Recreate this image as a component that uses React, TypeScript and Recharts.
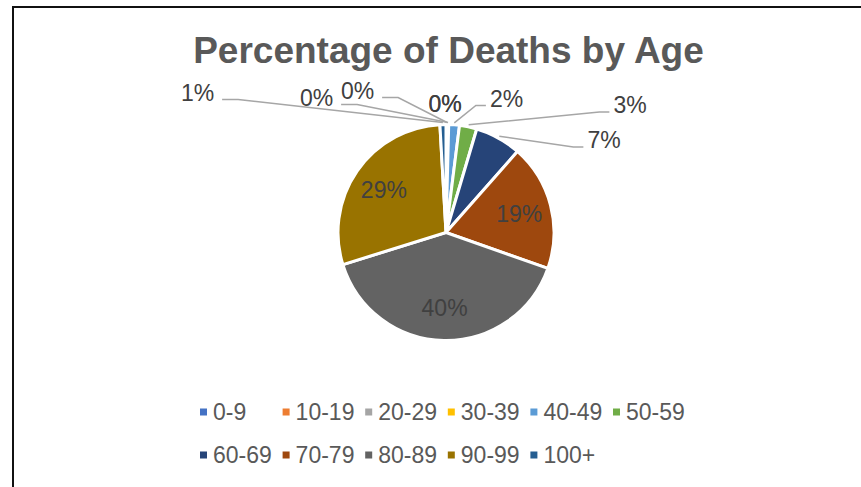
import { Cell, Legend, Pie, PieChart } from "recharts";

const AGE_GROUPS = ["0-9", "10-19", "20-29", "30-39", "40-49", "50-59", "60-69", "70-79", "80-89", "90-99", "100+"];
const DEATH_SHARE = [0.05, 0.05, 0.1, 0.2, 1.6, 2.6, 6.9, 18.9, 39.8, 28.9, 0.9];
const COLORS = ["#4472C4", "#ED7D31", "#A5A5A5", "#FFC000", "#5B9BD5", "#70AD47", "#264478", "#9E480E", "#636363", "#997300", "#255E91"];

const data = AGE_GROUPS.map((age, i) => ({ age, value: DEATH_SHARE[i] }));

// Excel "best fit" put the small slices' labels outside; offsets are from the pie centre
const OUTSIDE_LABELS: Record<number, { dx: number; dy: number; leader: boolean }> = {
  0: { dx: -1, dy: -129, leader: false },
  1: { dx: -1, dy: -129, leader: false },
  2: { dx: -88.5, dy: -142, leader: true },
  3: { dx: -129.5, dy: -135, leader: true },
  4: { dx: 60.5, dy: -134, leader: true },
  5: { dx: 184, dy: -127.5, leader: true },
  6: { dx: 158, dy: -92.5, leader: true },
  10: { dx: -248.5, dy: -140, leader: true },
};

const RAD = Math.PI / 180;
const FONT = '"Liberation Sans", Arial, sans-serif';
const LABEL_SIZE = 23;

function PieLabel(props: any) {
  const { cx, cy, midAngle, outerRadius, percent, index } = props;
  const text = `${Math.round(percent * 100)}%`;
  const cos = Math.cos(-midAngle * RAD);
  const sin = Math.sin(-midAngle * RAD);
  const spot = OUTSIDE_LABELS[index];

  if (!spot) {
    const r = outerRadius * 0.7;
    return (
      <text x={cx + r * cos} y={cy + r * sin} dy="0.36em" textAnchor="middle"
        fill="#404040" fontSize={LABEL_SIZE} fontFamily={FONT}>{text}</text>
    );
  }

  const x = cx + spot.dx;
  const y = cy + spot.dy;
  const w = LABEL_SIZE * (0.556 * (text.length - 1) + 0.889);
  const left = spot.dx < 0;
  const sx = left ? x + w / 2 + 8 : x - w / 2 - 4;
  const ex = left ? sx + 16 : sx - 10;
  const edge = outerRadius + 2;
  return (
    <g>
      {spot.leader && (
        <polyline
          points={`${sx},${y + 7} ${ex},${y + 7} ${cx + edge * cos},${cy + edge * sin}`}
          fill="none" stroke="#A6A6A6" strokeWidth={1.5} />
      )}
      <text x={x} y={y} dy="0.36em" textAnchor="middle" fill="#404040"
        fontSize={LABEL_SIZE} fontFamily={FONT}>{text}</text>
    </g>
  );
}

const LEGEND_COLS = 6;
const LEGEND_X0 = 200;
const LEGEND_STEP = 82.6;

function AgeLegend() {
  return (
    <svg width={861} height={80}>
      {AGE_GROUPS.map((age, i) => {
        const col = i % LEGEND_COLS;
        const row = Math.floor(i / LEGEND_COLS);
        const x = LEGEND_X0 + col * LEGEND_STEP;
        const y = 22 + row * 43;
        return (
          <g key={age}>
            <rect x={x} y={y - 3.5} width={7} height={7} fill={COLORS[i]} />
            <text x={x + 13} y={y} dy="0.36em" fill="#595959" fontSize={LABEL_SIZE} fontFamily={FONT}>{age}</text>
          </g>
        );
      })}
    </svg>
  );
}

export default function App() {
  return (
    <div style={{ position: "absolute", left: 0, top: 0, width: 861, height: 487, overflow: "hidden", background: "#fff" }}>
      <div style={{ position: "absolute", left: 12, top: 6, width: 900, height: 600, borderLeft: "2px solid #111", borderTop: "2px solid #111" }} />
      <svg width={861} height={80} style={{ position: "absolute", left: 0, top: 0 }}>
        <text x={448.5} y={63} textAnchor="middle" fill="#595959" fontSize={37} fontWeight="bold" fontFamily={FONT}>
          Percentage of Deaths by Age
        </text>
      </svg>
      <div style={{ position: "absolute", left: 0, top: 0 }}>
        <PieChart width={861} height={487} margin={{ top: 0, right: 0, bottom: 0, left: 0 }}>
          <Pie data={data} dataKey="value" nameKey="age" cx={446} cy={232.5} outerRadius={108}
            startAngle={90} endAngle={-270} stroke="#fff" strokeWidth={3}
            label={PieLabel} labelLine={false} isAnimationActive={false}>
            {data.map((d, i) => <Cell key={d.age} fill={COLORS[i]} />)}
          </Pie>
          <Legend content={<AgeLegend />} wrapperStyle={{ left: 0, top: 390, width: 861 }} />
        </PieChart>
      </div>
    </div>
  );
}
